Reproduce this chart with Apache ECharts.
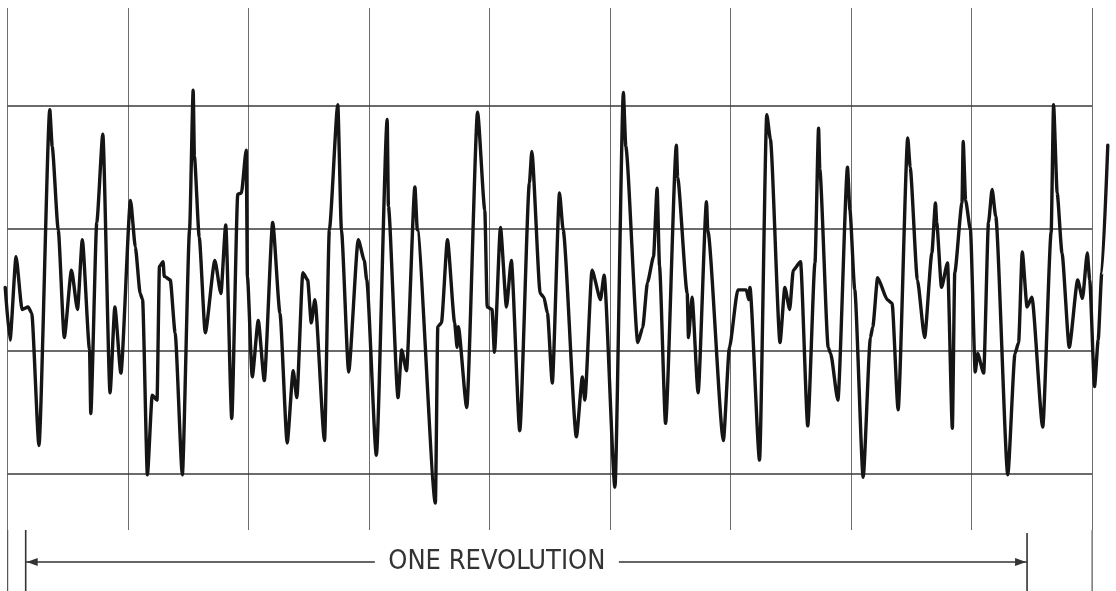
<!DOCTYPE html>
<html>
<head>
<meta charset="utf-8">
<script src="https://cdn.jsdelivr.net/npm/echarts@6/dist/echarts.min.js"></script>
<style>
  html, body { margin: 0; padding: 0; background: #fff; }
  #chart { width: 1116px; height: 591px; }
</style>
</head>
<body>
<div id="chart"></div>
<script>
// trace, in grid divisions (x: time, y: amplitude)
const traceX = [
  -0.02, 0.02, 0.07, 0.12, 0.17, 0.20, 0.26, 0.35, 0.37, 0.42, 0.47, 0.53, 0.58, 0.62, 0.68, 0.69, 0.74, 0.79, 0.85, 0.89, 0.94,
  1.02, 1.06, 1.10, 1.12, 1.16, 1.20, 1.24, 1.26, 1.29, 1.30, 1.35, 1.39, 1.45, 1.51, 1.54, 1.55, 1.59, 1.64, 1.72, 1.77, 1.81, 1.86, 1.91, 1.94, 1.98, 1.99,
  2.03, 2.08, 2.13, 2.20, 2.26, 2.32, 2.37, 2.40, 2.45, 2.49, 2.52, 2.55, 2.63, 2.67, 2.74, 2.77, 2.83, 2.91, 2.96, 2.98,
  3.06, 3.15, 3.16, 3.24, 3.27, 3.31, 3.38, 3.40, 3.55, 3.57, 3.60, 3.65, 3.71, 3.73, 3.74, 3.81, 3.90, 3.96, 3.98,
  4.02, 4.04, 4.09, 4.14, 4.18, 4.25, 4.33, 4.35, 4.42, 4.45, 4.48, 4.52, 4.58, 4.61, 4.72, 4.77, 4.79, 4.85, 4.92, 4.95,
  5.04, 5.11, 5.13, 5.23, 5.27, 5.31, 5.36, 5.39, 5.41, 5.46, 5.55, 5.56, 5.64, 5.65, 5.68, 5.73, 5.80, 5.81, 5.94, 5.99,
  6.06, 6.13, 6.15, 6.16, 6.24, 6.30, 6.33, 6.41, 6.45, 6.49, 6.52, 6.58, 6.64, 6.70, 6.73, 6.74, 6.81, 6.83, 6.89, 6.97, 6.99,
  7.03, 7.10, 7.16, 7.18, 7.22, 7.30, 7.34, 7.39, 7.47, 7.49, 7.55, 7.61, 7.67, 7.70, 7.71, 7.75, 7.80, 7.84, 7.86, 7.92, 7.93, 7.95, 7.99,
  8.03, 8.05, 8.10, 8.14, 8.17, 8.20, 8.30, 8.36, 8.39, 8.42, 8.46, 8.50, 8.59, 8.66, 8.68, 8.71, 8.75, 8.81, 8.88, 8.92, 8.96, 8.98,
  9.02, 9.05, 9.08, 9.13
]
const traceY = [
  0.52, 0.09, 0.77, 0.34, 0.36, 0.31, -0.77, 1.97, 1.67, 0.99, 0.11, 0.66, 0.34, 0.91, 0.01, -0.51, 1.05, 1.77, -0.34, 0.36, -0.18,
  1.23, 0.85, 0.47, 0.42, -1.01, -0.36, -0.40, 0.69, 0.73, 0.61, 0.58, 0.15, -1.01, 0.99, 2.13, 1.59, 0.93, 0.15, 0.74, 0.47, 1.03, -0.55, 1.28, 1.29, 1.64, 0.61,
  -0.21, 0.25, -0.24, 1.05, 0.31, -0.75, -0.16, -0.38, 0.64, 0.58, 0.23, 0.42, -0.73, 0.99, 2.01, 0.99, -0.17, 0.91, 0.74, 0.58,
  -0.85, 1.89, 1.18, -0.38, 0.01, -0.16, 1.34, 0.99, -1.24, 0.20, 0.23, 0.91, 0.23, 0.03, 0.20, -0.46, 1.95, 1.15, 0.36,
  0.34, -0.01, 1.01, 0.36, 0.74, -0.65, 1.37, 1.63, 0.47, 0.44, 0.31, -0.26, 1.29, 0.99, -0.70, -0.21, -0.40, 0.66, 0.42, 0.62,
  -1.11, 2.11, 1.67, 0.07, 0.19, 0.56, 0.77, 1.33, 0.69, -0.59, 1.68, 1.42, 0.47, 0.11, 0.44, -0.34, 1.22, 0.99, -0.73, 0.03,
  0.50, 0.50, 0.42, 0.52, -0.89, 1.93, 1.73, 0.07, 0.52, 0.34, 0.66, 0.73, -0.61, 0.72, 1.82, 1.48, 0.03, -0.02, -0.40, 1.50, 1.15,
  0.50, -1.03, 0.11, 0.20, 0.60, 0.42, 0.39, -0.48, 1.74, 1.50, 0.58, 0.11, 0.80, 1.21, 1.05, 0.52, 0.72, -0.63, 0.64, 1.21, 1.71, 1.23, 0.99,
  -0.17, -0.02, -0.18, 1.05, 1.32, 1.10, -1.01, -0.02, 0.07, 0.81, 0.36, 0.44, -0.62, 0.97, 2.01, 1.29, 0.80, 0.03, 0.58, 0.43, 0.80, 0.58,
  -0.29, 0.09, 0.64, 1.68
]
// grid divisions
const columns = [0, 1, 2, 3, 4, 5, 6, 7, 8, 9]
const levels = [-1, 0, 1, 2]
// one revolution marker, in divisions
const revStart = 0.15
const revEnd = 8.46
const revLabelAt = 4.06
const revLabel = 'ONE REVOLUTION'

const xMin = -0.03
const xMax = 9.14
const yMin = -1.46
const yMax = 2.8

const chart = echarts.init(document.getElementById('chart'))

const vLine = { color: '#6e6e6e', width: 1, type: 'solid' }
const hLine = { color: '#3a3a3a', width: 1.5, type: 'solid' }

const option = {
  backgroundColor: '#ffffff',
  animation: false,
  grid: { left: 4, right: 7, top: 8, bottom: 61 },
  xAxis: {
    type: 'value',
    min: xMin,
    max: xMax,
    show: false,
    splitLine: { show: false }
  },
  yAxis: {
    type: 'value',
    min: yMin,
    max: yMax,
    show: false,
    splitLine: { show: false }
  },
  series: [
    {
      type: 'line',
      data: traceX.map((x, i) => [x, traceY[i]]),
      showSymbol: false,
      smooth: 0.2,
      smoothMonotone: 'x',
      lineStyle: { color: '#151515', width: 3.4, join: 'round', cap: 'round' },
      markLine: {
        silent: true,
        symbol: 'none',
        label: { show: false },
        z: 1,
        data: [
          ...columns.map((v) => ({ xAxis: v, lineStyle: vLine })),
          ...levels.map((v) => [
            { coord: [columns[0], v], lineStyle: hLine },
            { coord: [columns[columns.length - 1], v] }
          ])
        ]
      },
      z: 3
    }
  ]
}

chart.setOption(option)

// frame extensions and the revolution arrow below the grid
const px = (x) => chart.convertToPixel({ gridIndex: 0 }, [x, yMin])
const gridBottom = px(0)[1]
const H = chart.getHeight()
const left = px(columns[0])[0]
const right = px(columns[columns.length - 1])[0]
const a0 = px(revStart)[0]
const a1 = px(revEnd)[0]
const mid = px(revLabelAt)[0]
const ay = gridBottom + 32
const gap = 122
const ink = '#333'

chart.setOption({
  graphic: [
    { type: 'line', shape: { x1: left, y1: gridBottom, x2: left, y2: H }, style: { stroke: '#555', lineWidth: 1.2 } },
    { type: 'line', shape: { x1: right, y1: gridBottom, x2: right, y2: H }, style: { stroke: '#555', lineWidth: 1.2 } },
    { type: 'line', shape: { x1: a0, y1: gridBottom, x2: a0, y2: H }, style: { stroke: ink, lineWidth: 1.6 } },
    { type: 'line', shape: { x1: a1, y1: gridBottom + 3, x2: a1, y2: H }, style: { stroke: ink, lineWidth: 1.6 } },
    { type: 'line', shape: { x1: a0, y1: ay, x2: mid - gap, y2: ay }, style: { stroke: ink, lineWidth: 1.3 } },
    { type: 'line', shape: { x1: mid + gap, y1: ay, x2: a1, y2: ay }, style: { stroke: ink, lineWidth: 1.3 } },
    { type: 'polygon', shape: { points: [[a0 + 1, ay], [a0 + 12, ay - 4], [a0 + 12, ay + 4]] }, style: { fill: ink } },
    { type: 'polygon', shape: { points: [[a1 - 1, ay], [a1 - 12, ay - 4], [a1 - 12, ay + 4]] }, style: { fill: ink } },
    {
      type: 'text',
      x: mid,
      y: ay,
      style: {
        text: revLabel,
        align: 'center',
        verticalAlign: 'middle',
        fill: '#333',
        font: '27px "Liberation Sans Narrow", "DejaVu Sans Condensed", sans-serif'
      }
    }
  ]
})
</script>
</body>
</html>
